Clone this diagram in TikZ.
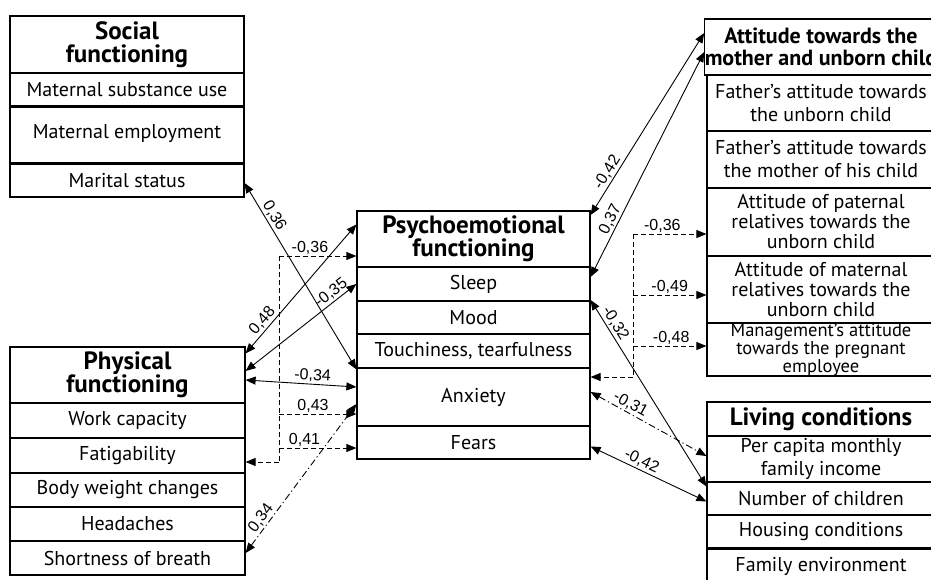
\documentclass[tikz,border=0pt]{standalone}
\usepackage{fontspec}
\setmainfont{PT Sans}
\newfontfamily\lblfont{Liberation Sans}
\usetikzlibrary{arrows.meta,calc}
\begin{document}
\begin{tikzpicture}[x=1pt,y=-1pt,
  >={Triangle[length=10pt,width=8pt]},
  row/.style={draw, line width=1.2pt, inner sep=0pt, align=center,
    font=\fontsize{20}{23}\selectfont},
  head/.style={row, font=\fontsize{25}{23}\selectfont\bfseries},
  lbl/.style={font=\lblfont\fontsize{16}{16}\selectfont, inner sep=1.5pt},
  conn/.style={line width=0.9pt, <->},
  dsh/.style={line width=0.9pt, dash pattern=on 5pt off 3pt},
  dd/.style={line width=0.9pt, dash pattern=on 7pt off 3pt on 1.2pt off 3pt, <->}]
\useasboundingbox (0,0) rectangle (931,579);
\clip (0,0) rectangle (931,579);
\fill[white] (0,0) rectangle (931,579);

% Social functioning
\node[head, minimum width=234, minimum height=57] (sf0) at (127,44.5) {Social\\functioning};
\node[row, minimum width=234, minimum height=34] (sf1) at (127,90) {Maternal substance use};
\node[row, minimum width=234, minimum height=57] (sf2) at (127,134) {Maternal employment};
\node[row, minimum width=234, minimum height=33] (sf3) at (127,180.5) {Marital status};

% Physical functioning
\node[head, minimum width=235, minimum height=56] (pf0) at (127.5,375) {Physical\\functioning};
\node[row, minimum width=235, minimum height=35] (pf1) at (127.5,420.5) {Work capacity};
\node[row, minimum width=235, minimum height=35] (pf2) at (127.5,455.5) {Fatigability};
\node[row, minimum width=235, minimum height=34] (pf3) at (127.5,490) {Body weight changes};
\node[row, minimum width=235, minimum height=34] (pf4) at (127.5,524) {Headaches};
\node[row, minimum width=235, minimum height=34] (pf5) at (127.5,558) {Shortness of breath};

% Psychoemotional functioning
\node[head, minimum width=233, minimum height=56] (cf0) at (473.5,239) {Psychoemotional\\functioning};
\node[row, minimum width=233, minimum height=34] (cf1) at (473.5,284) {Sleep};
\node[row, minimum width=233, minimum height=33] (cf2) at (473.5,317.5) {Mood};
\node[row, minimum width=233, minimum height=34] (cf3) at (473.5,351) {Touchiness, tearfulness};
\node[row, minimum width=233, minimum height=58] (cf4) at (473.5,397) {Anxiety};
\node[row, minimum width=233, minimum height=33] (cf5) at (473.5,442.5) {Fears};

% Attitude towards the mother and unborn child
\node[head, font=\fontsize{22}{22}\selectfont\bfseries, minimum width=228, minimum height=56] (af0) at (821,47) {Attitude towards the\\mother and unborn child};
\node[row, minimum width=228, minimum height=56] (af1) at (821,103) {Father’s attitude towards\\the unborn child};
\node[row, minimum width=228, minimum height=57] (af2) at (821,159.5) {Father’s attitude towards\\the mother of his child};
\node[row, font=\fontsize{20}{20}\selectfont, minimum width=228, minimum height=68] (af3) at (821,222) {Attitude of paternal\\relatives towards the\\unborn child};
\node[row, font=\fontsize{20}{20}\selectfont, minimum width=228, minimum height=67] (af4) at (821,289.5) {Attitude of maternal\\relatives towards the\\unborn child};
\node[row, font=\fontsize{18.5}{16}\selectfont, minimum width=228, minimum height=53] (af5) at (821,349.5) {Management's attitude\\towards the pregnant\\employee};

% Living conditions
\node[head, minimum width=228, minimum height=34] (lf0) at (821,419) {Living conditions};
\node[row, minimum width=228, minimum height=46] (lf1) at (821,459) {Per capita monthly\\family income};
\node[row, minimum width=228, minimum height=33] (lf2) at (821,498.5) {Number of children};
\node[row, minimum width=228, minimum height=34] (lf3) at (821,532) {Housing conditions};
\node[row, minimum width=228, minimum height=36] (lf4) at (821,566) {Family environment};

% Left connectors
\draw[conn] ($(sf3.east)+(0,2.5)$) -- ($(cf4.north west)+(0,2)$)
  node[lbl, pos=.2, sloped, above] {0,36};
\draw[conn] ($(pf0.north east)+(0,7)$) -- ($(cf0.north west)+(0,14)$)
  node[lbl, pos=.21, sloped, above] {0,48};
\draw[conn] ($(pf0.east)+(0,-4)$) -- (cf1.west)
  node[lbl, pos=.82, sloped, above] {-0,35};
\draw[conn] ($(pf0.east)+(0,5)$) -- ($(cf4.west)+(0,-10)$)
  node[lbl, pos=.6, sloped, above] {-0,34};
\draw[dd] ($(pf5.east)+(0,-5)$) -- ($(cf4.west)+(0,7)$)
  node[lbl, pos=.2, sloped, above] {0,34};

% Left dashed tree
\coordinate (lt) at (279,256);
\coordinate (l43) at (279,414);
\coordinate (l41) at (279,448);
\coordinate (lb) at (279,462);
\draw[dsh] (lt) -- (lb);
\draw[dsh,->] (lt) -- (lt -| cf0.west) node[lbl, pos=.4, above] {-0,36};
\draw[dsh,->] (l43) -- (l43 -| cf4.west) node[lbl, pos=.44, above] {0,43};
\draw[dsh,->] (l41) -- (l41 -| cf5.west) node[lbl, pos=.33, above] {0,41};
\draw[dsh,->] (lb) -- (lb -| pf2.east);

% Right connectors
\draw[conn] ($(cf0.east)+(0,-24)$) -- ($(af0.west)+(0,-14)$)
  node[lbl, pos=.21, sloped, above] {-0,42};
\draw[conn] ($(cf1.east)+(0,-7)$) -- ($(af0.west)+(0,5)$)
  node[lbl, pos=.24, sloped, above] {0,37};
\draw[conn] ($(cf1.east)+(0,16)$) -- ($(lf2.west)+(0,-12)$)
  node[lbl, pos=.15, sloped, above] {-0,32};
\draw[dd] ($(cf4.east)+(0,-5)$) -- ($(lf1.west)+(0,-3)$)
  node[lbl, pos=.31, sloped, above] {-0,31};
\draw[conn] ($(cf5.east)+(0,4)$) -- ($(lf2.west)+(0,3)$)
  node[lbl, pos=.41, sloped, above] {-0,42};

% Right dashed tree
\coordinate (rt) at (633,234);
\coordinate (r49) at (633,295);
\coordinate (r48) at (633,346);
\coordinate (rb) at (633,377);
\draw[dsh] (rt) -- (rb);
\draw[dsh,->] (rt) -- (rt -| af3.west) node[lbl, pos=.4, above] {-0,36};
\draw[dsh,->] (r49) -- (r49 -| af4.west) node[lbl, pos=.5, above] {-0,49};
\draw[dsh,->] (r48) -- (r48 -| af5.west) node[lbl, pos=.52, above] {-0,48};
\draw[dsh,->] (rb) -- (rb -| cf4.east);
\end{tikzpicture}
\end{document}
